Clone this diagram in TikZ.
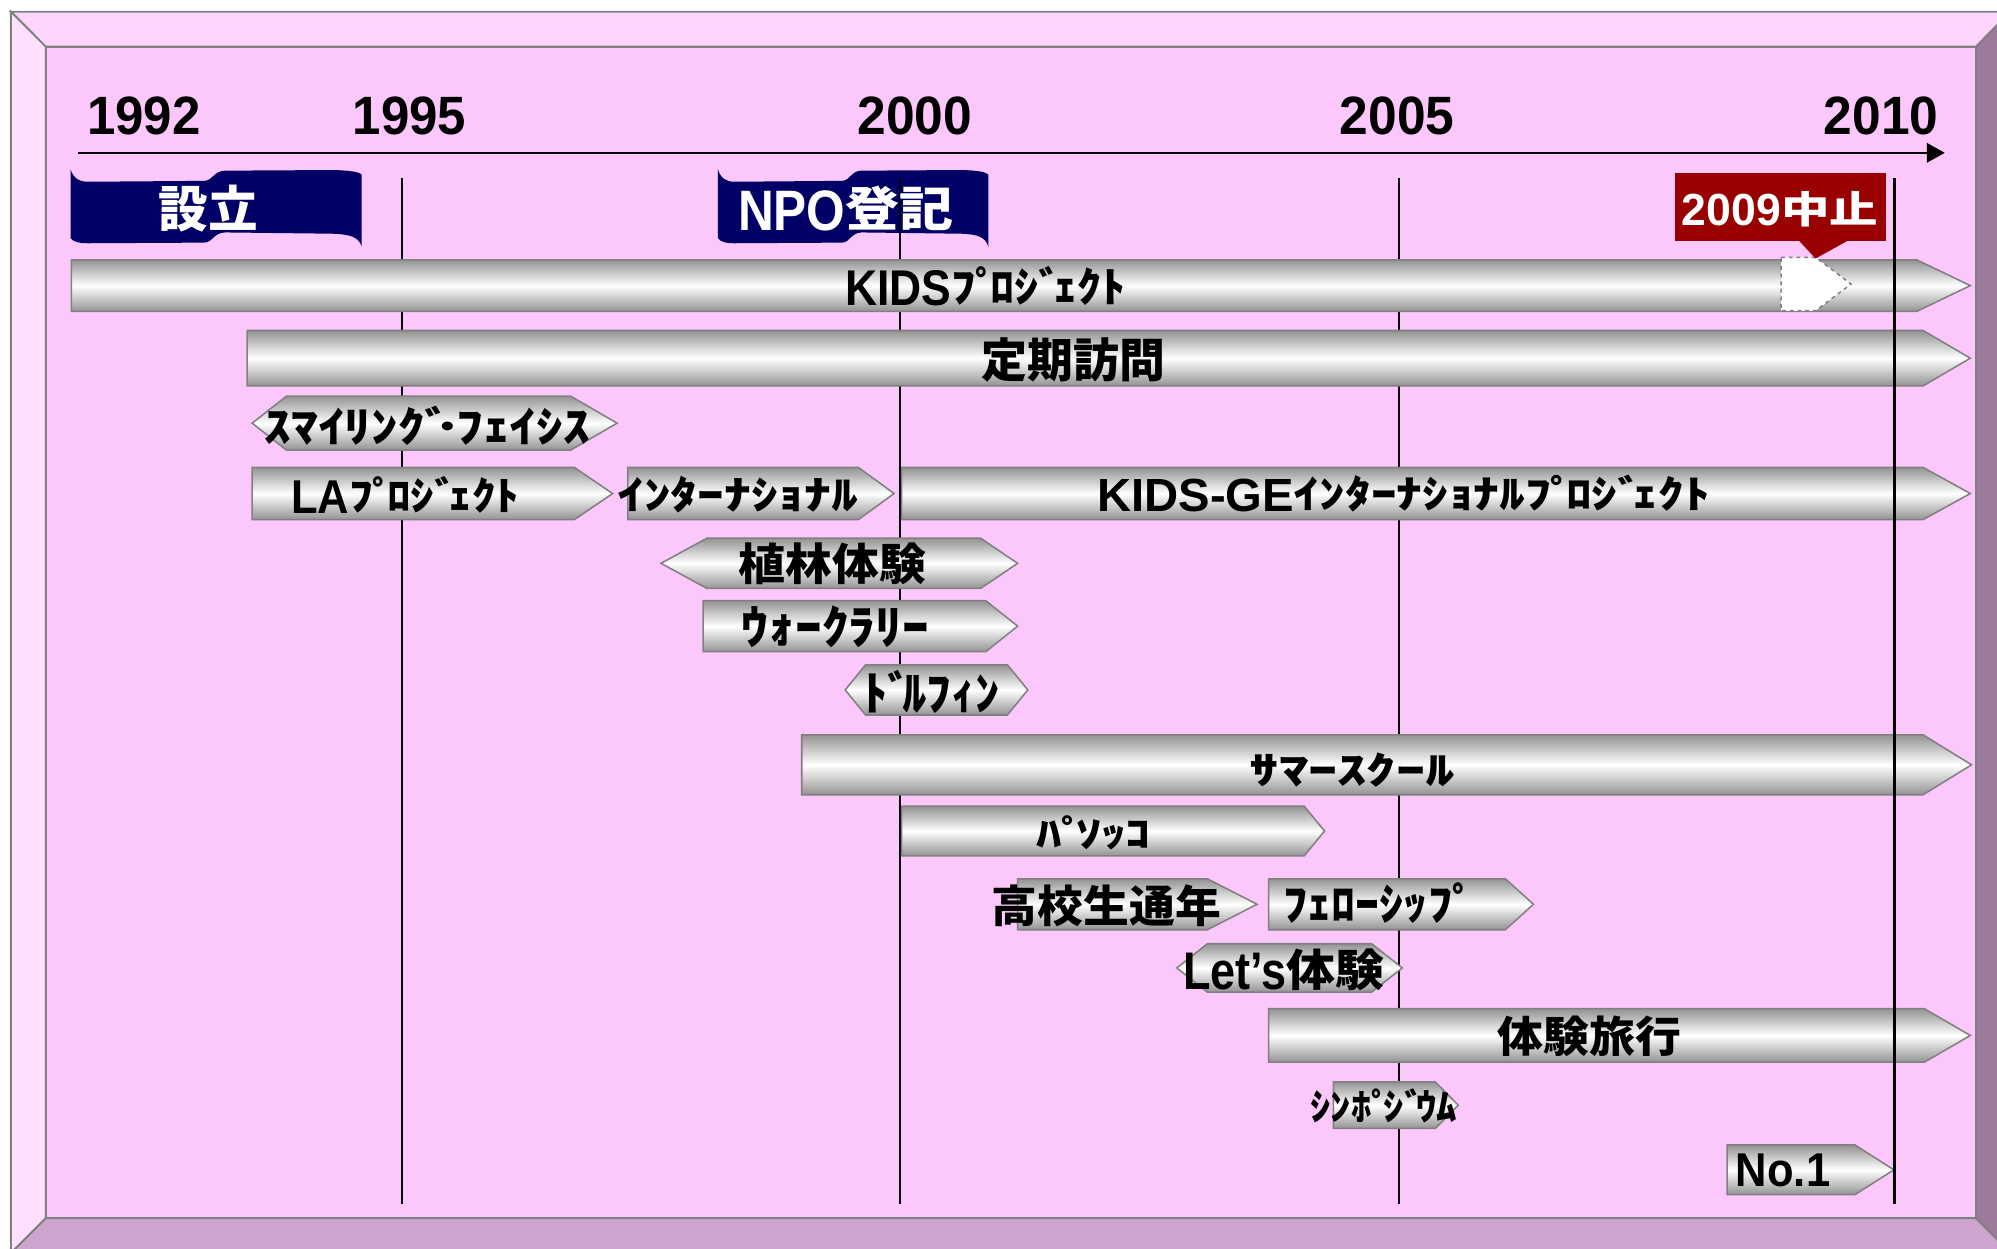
\documentclass[tikz,border=0pt]{standalone}
\usepackage{fontspec}
\usepackage{graphicx}
\setmainfont{Liberation Sans}
\newfontfamily\jpfont{Noto Sans CJK JP}
\XeTeXuseglyphmetrics=1
\usetikzlibrary{arrows.meta}
\definecolor{panel}{HTML}{FCC8FC}
\definecolor{topface}{HTML}{FDD5FD}
\definecolor{leftface}{HTML}{FEE0FE}
\definecolor{rightface}{HTML}{9C7A9A}
\definecolor{botface}{HTML}{CDA4CD}
\definecolor{edgegray}{HTML}{808080}
\definecolor{barshade}{HTML}{939393}
\definecolor{navyband}{HTML}{000066}
\definecolor{stopred}{HTML}{990000}
\newcommand\jpn[1]{{\jpfont\bfseries #1}}
\newcommand\latn[1]{{\bfseries #1}}
\newcommand\latx[1]{\raisebox{-0.07em}{\scalebox{0.92}[1.2]{\bfseries #1}}}
\newcommand\dk{ﾞ\kern-0.2em}
\newcommand\hd{ﾟ\kern-0.2em}
\newcommand\fitbox[3]{\resizebox*{#1pt}{#2pt}{#3}}
% arrow bar: x-left, x-body-end, x-tip, y-top, y-bottom
\newcommand\arbar[5]{\path[bar] (#1,#4) -- (#2,#4) -- (#3,{(#4+#5)/2}) -- (#2,#5) -- (#1,#5) -- cycle;}
% double-pointed bar: x-left-point, x-body-left, x-body-right, x-right-point, y-top, y-bottom
\newcommand\hexbar[6]{\path[bar] (#1,{(#5+#6)/2}) -- (#2,#5) -- (#3,#5) -- (#4,{(#5+#6)/2}) -- (#3,#6) -- (#2,#6) -- cycle;}
% wave banner: x-left, width
\newcommand\wavebanner[2]{\fill[navyband] (#1,133)
  .. controls ({#1+0.01*#2},140) and ({#1+0.03*#2},142.7) .. ({#1+0.06*#2},142.7)
  -- ({#1+0.46*#2},142) .. controls ({#1+0.49*#2},141.5) and ({#1+0.49*#2},134.5) .. ({#1+0.53*#2},134)
  -- ({#1+0.9*#2},133.5) .. controls ({#1+0.96*#2},133.8) and ({#1+0.99*#2},135) .. ({#1+#2},137)
  -- ({#1+#2},193.7) .. controls ({#1+0.99*#2},186) and ({#1+0.96*#2},184) .. ({#1+0.9*#2},183.5)
  -- ({#1+0.53*#2},182.5) .. controls ({#1+0.49*#2},183) and ({#1+0.49*#2},190) .. ({#1+0.46*#2},190.5)
  -- ({#1+0.06*#2},191) .. controls ({#1+0.03*#2},191) and ({#1+0.01*#2},190) .. (#1,187) -- cycle;}
\tikzset{
  bar/.style={top color=barshade, bottom color=barshade, middle color=white, draw=edgegray, line width=1.2pt, line join=miter},
  lbl/.style={inner sep=0pt, outer sep=0pt, text=black},
  wlbl/.style={inner sep=0pt, outer sep=0pt, text=white},
  yearline/.style={line width=1.6pt, black},
  face/.style={draw=edgegray, line width=1.5pt, line join=miter},
}
\begin{document}
\begin{tikzpicture}[x=1pt,y=-1pt]
\useasboundingbox (0,0) rectangle (1568,980);
\clip (0,0) rectangle (1568,980);
\fill[white] (0,0) rectangle (1568,980);
% frame faces
\path[face, fill=topface] (8.6,9.2) -- (1578.8,9.2) -- (1551.5,36.6) -- (35.9,36.6) -- cycle;
\path[face, fill=leftface] (8.6,9.2) -- (35.9,36.6) -- (35.9,956.5) -- (8.6,983.8) -- cycle;
\path[face, fill=rightface] (1578.8,9.2) -- (1551.5,36.6) -- (1551.5,956.5) -- (1578.8,983.8) -- cycle;
\path[face, fill=botface] (8.6,983.8) -- (35.9,956.5) -- (1551.5,956.5) -- (1578.8,983.8) -- cycle;
\path[face, fill=panel] (35.9,36.6) rectangle (1551.5,956.5);
% axis
\coordinate (axL) at (61.3,120);
\coordinate (axR) at (1527,120);
\draw[line width=2pt, -{Triangle[length=14pt,width=15pt]}] (axL) -- (axR);
% year labels
\node[lbl] (y1992) at (113,91) {\fitbox{89}{30}{\latn{1992}}};
\node[lbl] (y1995) at (321.5,91) {\fitbox{89}{30}{\latn{1995}}};
\node[lbl] (y2000) at (718.4,91) {\fitbox{90}{30}{\latn{2000}}};
\node[lbl] (y2005) at (1097,91) {\fitbox{90}{30}{\latn{2005}}};
\node[lbl] (y2010) at (1477,91) {\fitbox{90}{30}{\latn{2010}}};
% banners
\wavebanner{55.4}{228.6}
\wavebanner{563.7}{212.3}
% year lines (beneath bars)
\draw[yearline] (315.5,140) -- (315.5,945);
\draw[yearline] (706.7,140) -- (706.7,945);
\draw[yearline] (1098.5,140) -- (1098.5,945);
% bars
\arbar{56}{1505}{1547}{204}{244.5}
\arbar{194}{1510}{1547}{259.5}{303}
\hexbar{198}{225}{448}{484.5}{311}{353.5}
\arbar{198}{451}{481}{367}{408}
\arbar{493}{674}{702}{367}{408}
\arbar{708}{1510}{1547}{367}{408}
\hexbar{519}{555}{770}{799}{422.6}{462}
\arbar{552}{774}{799}{471.6}{511.7}
\hexbar{663.6}{679.6}{791}{807}{522}{561.4}
\arbar{629.5}{1510}{1548}{577}{624}
\arbar{708}{1024}{1040}{633}{672}
\arbar{799}{948}{987}{690}{730}
\arbar{996}{1182}{1204}{690}{730}
\hexbar{924}{948}{1077}{1101}{741}{779}
\arbar{996}{1511}{1547}{792}{834}
\arbar{1047}{1127}{1145}{849.5}{886}
\arbar{1356}{1456.5}{1487}{899}{938}
% 2010 line (over bars)
\draw[yearline] (1487.5,140) -- (1487.5,945);
% stop marker and callout
\path[fill=white, draw=edgegray, dashed, line width=1.2pt] (1398.5,202) -- (1425.5,202) -- (1453.4,223) -- (1425.5,244) -- (1398.5,244) -- cycle;
\fill[stopred] (1315,136) rectangle (1480.7,189);
\fill[stopred] (1411.6,188) -- (1425.5,203) -- (1452.6,188) -- cycle;
% banner and callout texts
\node[wlbl] (t-setsuritsu) at (163.5,164) {\fitbox{78}{37}{\jpn{設立}}};
\node[wlbl] (t-npo) at (664,164) {\fitbox{169}{35}{\latx{NPO}\jpn{登記}}};
\node[wlbl] (t-stop) at (1397.5,164) {\fitbox{154}{28}{\latx{2009}\jpn{中止}}};
% bar labels
\node[lbl] (t-kids) at (773.8,225) {\fitbox{220}{31}{\latx{KIDS}\jpn{ﾌ\hd ﾛｼ\dk ｪｸﾄ}}};
\node[lbl] (t-teiki) at (843,282.5) {\fitbox{144}{35}{\jpn{定期訪問}}};
\node[lbl] (t-smile) at (335.5,334) {\fitbox{255}{31}{\jpn{ｽﾏｲﾘﾝｸ\dk\kern-0.12em ･\kern-0.08em ﾌｪｲｼｽ}}};
\node[lbl] (t-la) at (318.3,388.5) {\fitbox{179}{29}{\latx{LA}\jpn{ﾌ\hd ﾛｼ\dk ｪｸﾄ}}};
\node[lbl] (t-intl) at (579.3,388.5) {\fitbox{189}{29}{\jpn{ｲﾝﾀｰﾅｼｮﾅﾙ}}};
\node[lbl] (t-kidsge) at (1102,387.5) {\fitbox{481}{29}{\latx{KIDS-GE}\jpn{ｲﾝﾀｰﾅｼｮﾅﾙﾌ\hd ﾛｼ\dk ｪｸﾄ}}};
\node[lbl] (t-shokurin) at (653.5,443) {\fitbox{147}{33}{\jpn{植林体験}}};
\node[lbl] (t-walk) at (656,492.5) {\fitbox{147}{33}{\jpn{ｳｫｰｸﾗﾘｰ}}};
\node[lbl] (t-dolphin) at (731.5,543) {\fitbox{107}{34}{\jpn{ﾄ\dk ﾙﾌｨﾝ}}};
\node[lbl] (t-summer) at (1061.8,604.3) {\fitbox{161}{27}{\jpn{ｻﾏｰｽｸｰﾙ}}};
\node[lbl] (t-pc) at (858.6,654.2) {\fitbox{90}{27}{\jpn{ﾊ\hd ｿｯｺ}}};
\node[lbl] (t-koukou) at (868.7,711.5) {\fitbox{180}{33}{\jpn{高校生通年}}};
\node[lbl] (t-fellow) at (1083.5,709) {\fitbox{151}{32}{\jpn{ﾌｪﾛｰｼｯﾌﾟ}}};
\node[lbl] (t-lets) at (1008,761.5) {\fitbox{158}{33}{\latx{Let’s}\jpn{体験}}};
\node[lbl] (t-ryokou) at (1248,814) {\fitbox{144}{32}{\jpn{体験旅行}}};
\node[lbl] (t-sympo) at (1086.5,868.5) {\fitbox{115}{27}{\jpn{ｼﾝﾎ\hd ｼ\dk ｳﾑ}}};
\node[lbl] (t-no1) at (1400,919) {\fitbox{74}{26}{\latn{No.1}}};
\end{tikzpicture}
\end{document}
